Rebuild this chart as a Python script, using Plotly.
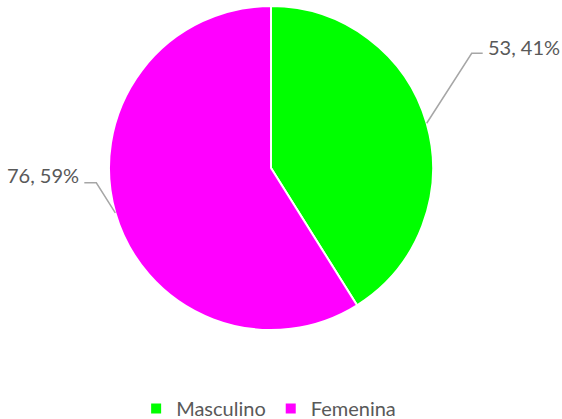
import math
import plotly.graph_objects as go

# ---- data ----
labels = ["Masculino", "Femenina"]
values = [53, 76]
colors = ["#00FF00", "#FF00FF"]

# ---- layout constants (pixels) ----
W, H = 562, 419
dom_x = [0.0, 542 / W]
dom_y = [1 - 330 / H, 1 - 6 / H]
# elbow offsets from slice edge (dx, dy), horizontal run length, text anchor side
leader = [
    {"elbow": (45, -70), "run": 11, "side": "left", "text_dy": -6},
    {"elbow": (-19, -30), "run": -12, "side": "right", "text_dy": -8},
]

total = sum(values)
fig = go.Figure(go.Pie(
    labels=labels, values=values, sort=False, direction="clockwise", rotation=0,
    marker=dict(colors=colors, line=dict(color="white", width=2)),
    textinfo="none", hoverinfo="label+value+percent",
    domain=dict(x=dom_x, y=dom_y),
))

cx = (dom_x[0] + dom_x[1]) / 2 * W
cy = (1 - (dom_y[0] + dom_y[1]) / 2) * H
r = min((dom_x[1] - dom_x[0]) * W, (dom_y[1] - dom_y[0]) * H) / 2

def px(x, y):
    return x / W, 1 - y / H

cum = 0
shapes, annotations = [], []
for v, ld in zip(values, leader):
    mid = (cum + v / 2) / total * 2 * math.pi
    cum += v
    ex = cx + r * math.sin(mid)
    ey = cy - r * math.cos(mid)
    bx, by = ex + ld["elbow"][0], ey + ld["elbow"][1]
    hx = bx + ld["run"]
    pts = [px(ex, ey), px(bx, by), px(hx, by)]
    path = "M {} {} L {} {} L {} {}".format(*[c for p in pts for c in p])
    shapes.append(dict(type="path", path=path, xref="paper", yref="paper",
                       line=dict(color="#A6A6A6", width=1.5)))
    tx = hx + (3 if ld["side"] == "left" else -3)
    ax, ay = px(tx, by + ld["text_dy"])
    annotations.append(dict(
        x=ax, y=ay, xref="paper", yref="paper", showarrow=False,
        xanchor=ld["side"], yanchor="middle",
        text=f"{v}, {round(100 * v / total)}%",
        font=dict(size=20, color="#595959", family="Lato"),
    ))

fig.update_layout(
    width=W, height=H, margin=dict(l=0, r=0, t=0, b=0, autoexpand=False),
    paper_bgcolor="white", plot_bgcolor="white",
    shapes=shapes, annotations=annotations,
    showlegend=True,
    legend=dict(orientation="h", x=0.478, xanchor="center", y=-9 / H, yanchor="bottom",
                font=dict(size=20, color="#595959", family="Lato"),
                itemwidth=30, traceorder="normal"),
    font=dict(family="Lato"),
)

fig.write_html("out.html", config={"displayModeBar": False},
               post_script="document.body.style.margin='0';")
